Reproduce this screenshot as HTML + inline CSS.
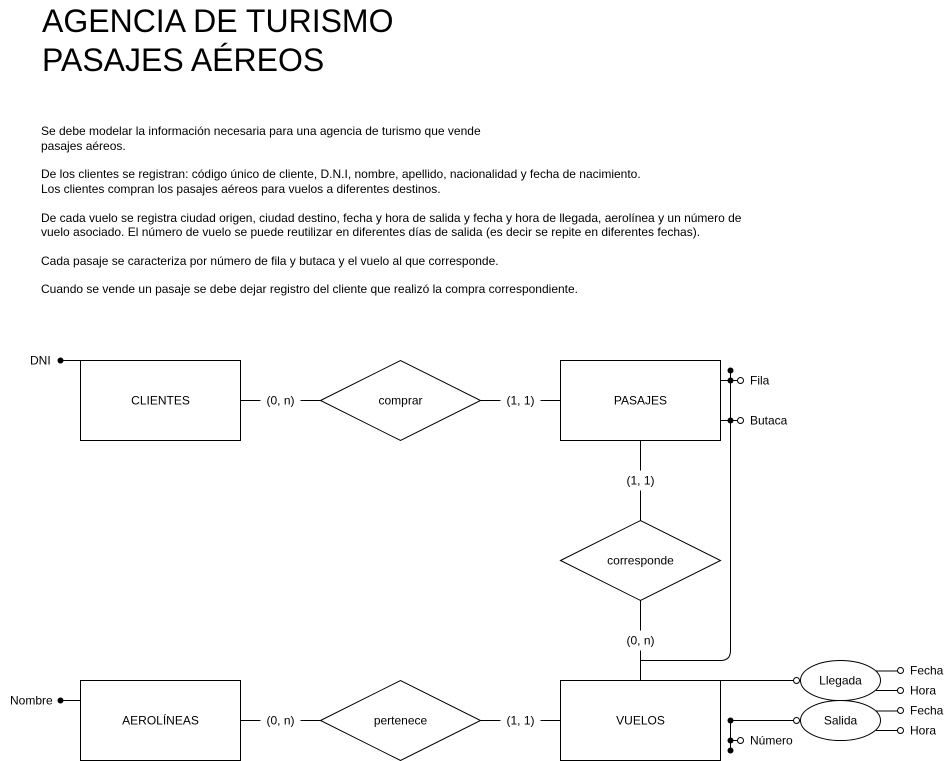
<!DOCTYPE html>
<html><head><meta charset="utf-8"><style>
body{margin:0;background:#fff;width:951px;height:761px;overflow:hidden}
svg{display:block;font-family:"Liberation Sans",sans-serif}
</style></head><body>
<svg width="951" height="761" xmlns="http://www.w3.org/2000/svg">
<g font-size="32" fill="#000">
<text x="42" y="32">AGENCIA DE TURISMO</text>
<text x="42" y="71">PASAJES AÉREOS</text>
</g>
<g font-size="12" fill="#000">
<text x="41" y="135">Se debe modelar la información necesaria para una agencia de turismo que vende</text>
<text x="41" y="150">pasajes aéreos.</text>
<text x="41" y="178">De los clientes se registran: código único de cliente, D.N.I, nombre, apellido, nacionalidad y fecha de nacimiento.</text>
<text x="41" y="193">Los clientes compran los pasajes aéreos para vuelos a diferentes destinos.</text>
<text x="41" y="222">De cada vuelo se registra ciudad origen, ciudad destino, fecha y hora de salida y fecha y hora de llegada, aerolínea y un número de</text>
<text x="41" y="236">vuelo asociado. El número de vuelo se puede reutilizar en diferentes días de salida (es decir se repite en diferentes fechas).</text>
<text x="41" y="265">Cada pasaje se caracteriza por número de fila y butaca y el vuelo al que corresponde.</text>
<text x="41" y="293">Cuando se vende un pasaje se debe dejar registro del cliente que realizó la compra correspondiente.</text>
</g>
<g stroke="#000" stroke-width="1" fill="#fff">
<rect x="80.5" y="360.5" width="160" height="80"/>
<rect x="560.5" y="360.5" width="160" height="80"/>
<rect x="80.5" y="680.5" width="160" height="80"/>
<rect x="560.5" y="680.5" width="160" height="80"/>
<polygon points="320.5,400.5 400.5,360.5 480.5,400.5 400.5,440.5"/>
<polygon points="320.5,720.5 400.5,680.5 480.5,720.5 400.5,760.5"/>
<polygon points="560.5,560.5 640.5,520.5 720.5,560.5 640.5,600.5"/>
<ellipse cx="840.5" cy="680.5" rx="40" ry="20"/>
<ellipse cx="840.5" cy="720.5" rx="40" ry="20"/>
</g>
<g stroke="#000" stroke-width="1" fill="none">
<path d="M240.5 400.5H260.5M300.5 400.5H320.5M480.5 400.5H500.5M540.5 400.5H560.5"/>
<path d="M240.5 720.5H260.5M300.5 720.5H320.5M480.5 720.5H500.5M540.5 720.5H560.5"/>
<path d="M640.5 440.5V470.5M640.5 490.5V520.5M640.5 600.5V630.5M640.5 650.5V680.5"/>
<path d="M60.5 360.5H80.5M60.5 700.5H80.5"/>
<path d="M730.5 370.5V650.5Q730.5 660.5 720.5 660.5H640.5"/>
<path d="M720.5 380.5H737.5M720.5 420.5H737.5"/>
<path d="M720.5 680.5H797.5M730.5 720.5H797.5M730.5 720.5V750.5M730.5 740.5H737.5"/>
<path d="M876 671H897.5M876 690.5H897.5M876 711H897.5M876 730.5H897.5"/>
</g>
<g fill="#000">
<circle cx="60.5" cy="360.5" r="3"/><circle cx="60.5" cy="700.5" r="3"/>
<circle cx="730.5" cy="370.5" r="3"/><circle cx="730.5" cy="380.5" r="3"/><circle cx="730.5" cy="420.5" r="3"/>
<circle cx="730.5" cy="720.5" r="3"/><circle cx="730.5" cy="740.5" r="3"/><circle cx="730.5" cy="750.5" r="3"/>
</g>
<g fill="#fff" stroke="#000">
<circle cx="740.5" cy="380.5" r="3"/><circle cx="740.5" cy="420.5" r="3"/><circle cx="740.5" cy="740.5" r="3"/>
<circle cx="796.5" cy="680.5" r="3"/><circle cx="796.5" cy="720.5" r="3"/>
<circle cx="900.5" cy="670.5" r="3"/><circle cx="900.5" cy="690.5" r="3"/><circle cx="900.5" cy="710.5" r="3"/><circle cx="900.5" cy="730.5" r="3"/>
</g>
<g font-size="12" fill="#000" text-anchor="middle">
<text x="160.5" y="404.5">CLIENTES</text>
<text x="640.5" y="404.5">PASAJES</text>
<text x="160.5" y="724.5">AEROLÍNEAS</text>
<text x="640.5" y="724.5">VUELOS</text>
<text x="400.5" y="404.5">comprar</text>
<text x="400.5" y="724.5">pertenece</text>
<text x="640.5" y="564.5">corresponde</text>
<text x="840.5" y="684.5">Llegada</text>
<text x="840.5" y="724.5">Salida</text>
<text x="280.5" y="404.5">(0, n)</text>
<text x="520.5" y="404.5">(1, 1)</text>
<text x="280.5" y="724.5">(0, n)</text>
<text x="520.5" y="724.5">(1, 1)</text>
<text x="640.5" y="484.5">(1, 1)</text>
<text x="640.5" y="644.5">(0, n)</text>
</g>
<g font-size="12" fill="#000">
<text x="30" y="364.5">DNI</text>
<text x="10" y="704.5">Nombre</text>
<text x="750" y="384.5">Fila</text>
<text x="750" y="424.5">Butaca</text>
<text x="750" y="744.5">Número</text>
<text x="910" y="674.5">Fecha</text>
<text x="910" y="694.5">Hora</text>
<text x="910" y="714.5">Fecha</text>
<text x="910" y="734.5">Hora</text>
</g>
</svg>
</body></html>
